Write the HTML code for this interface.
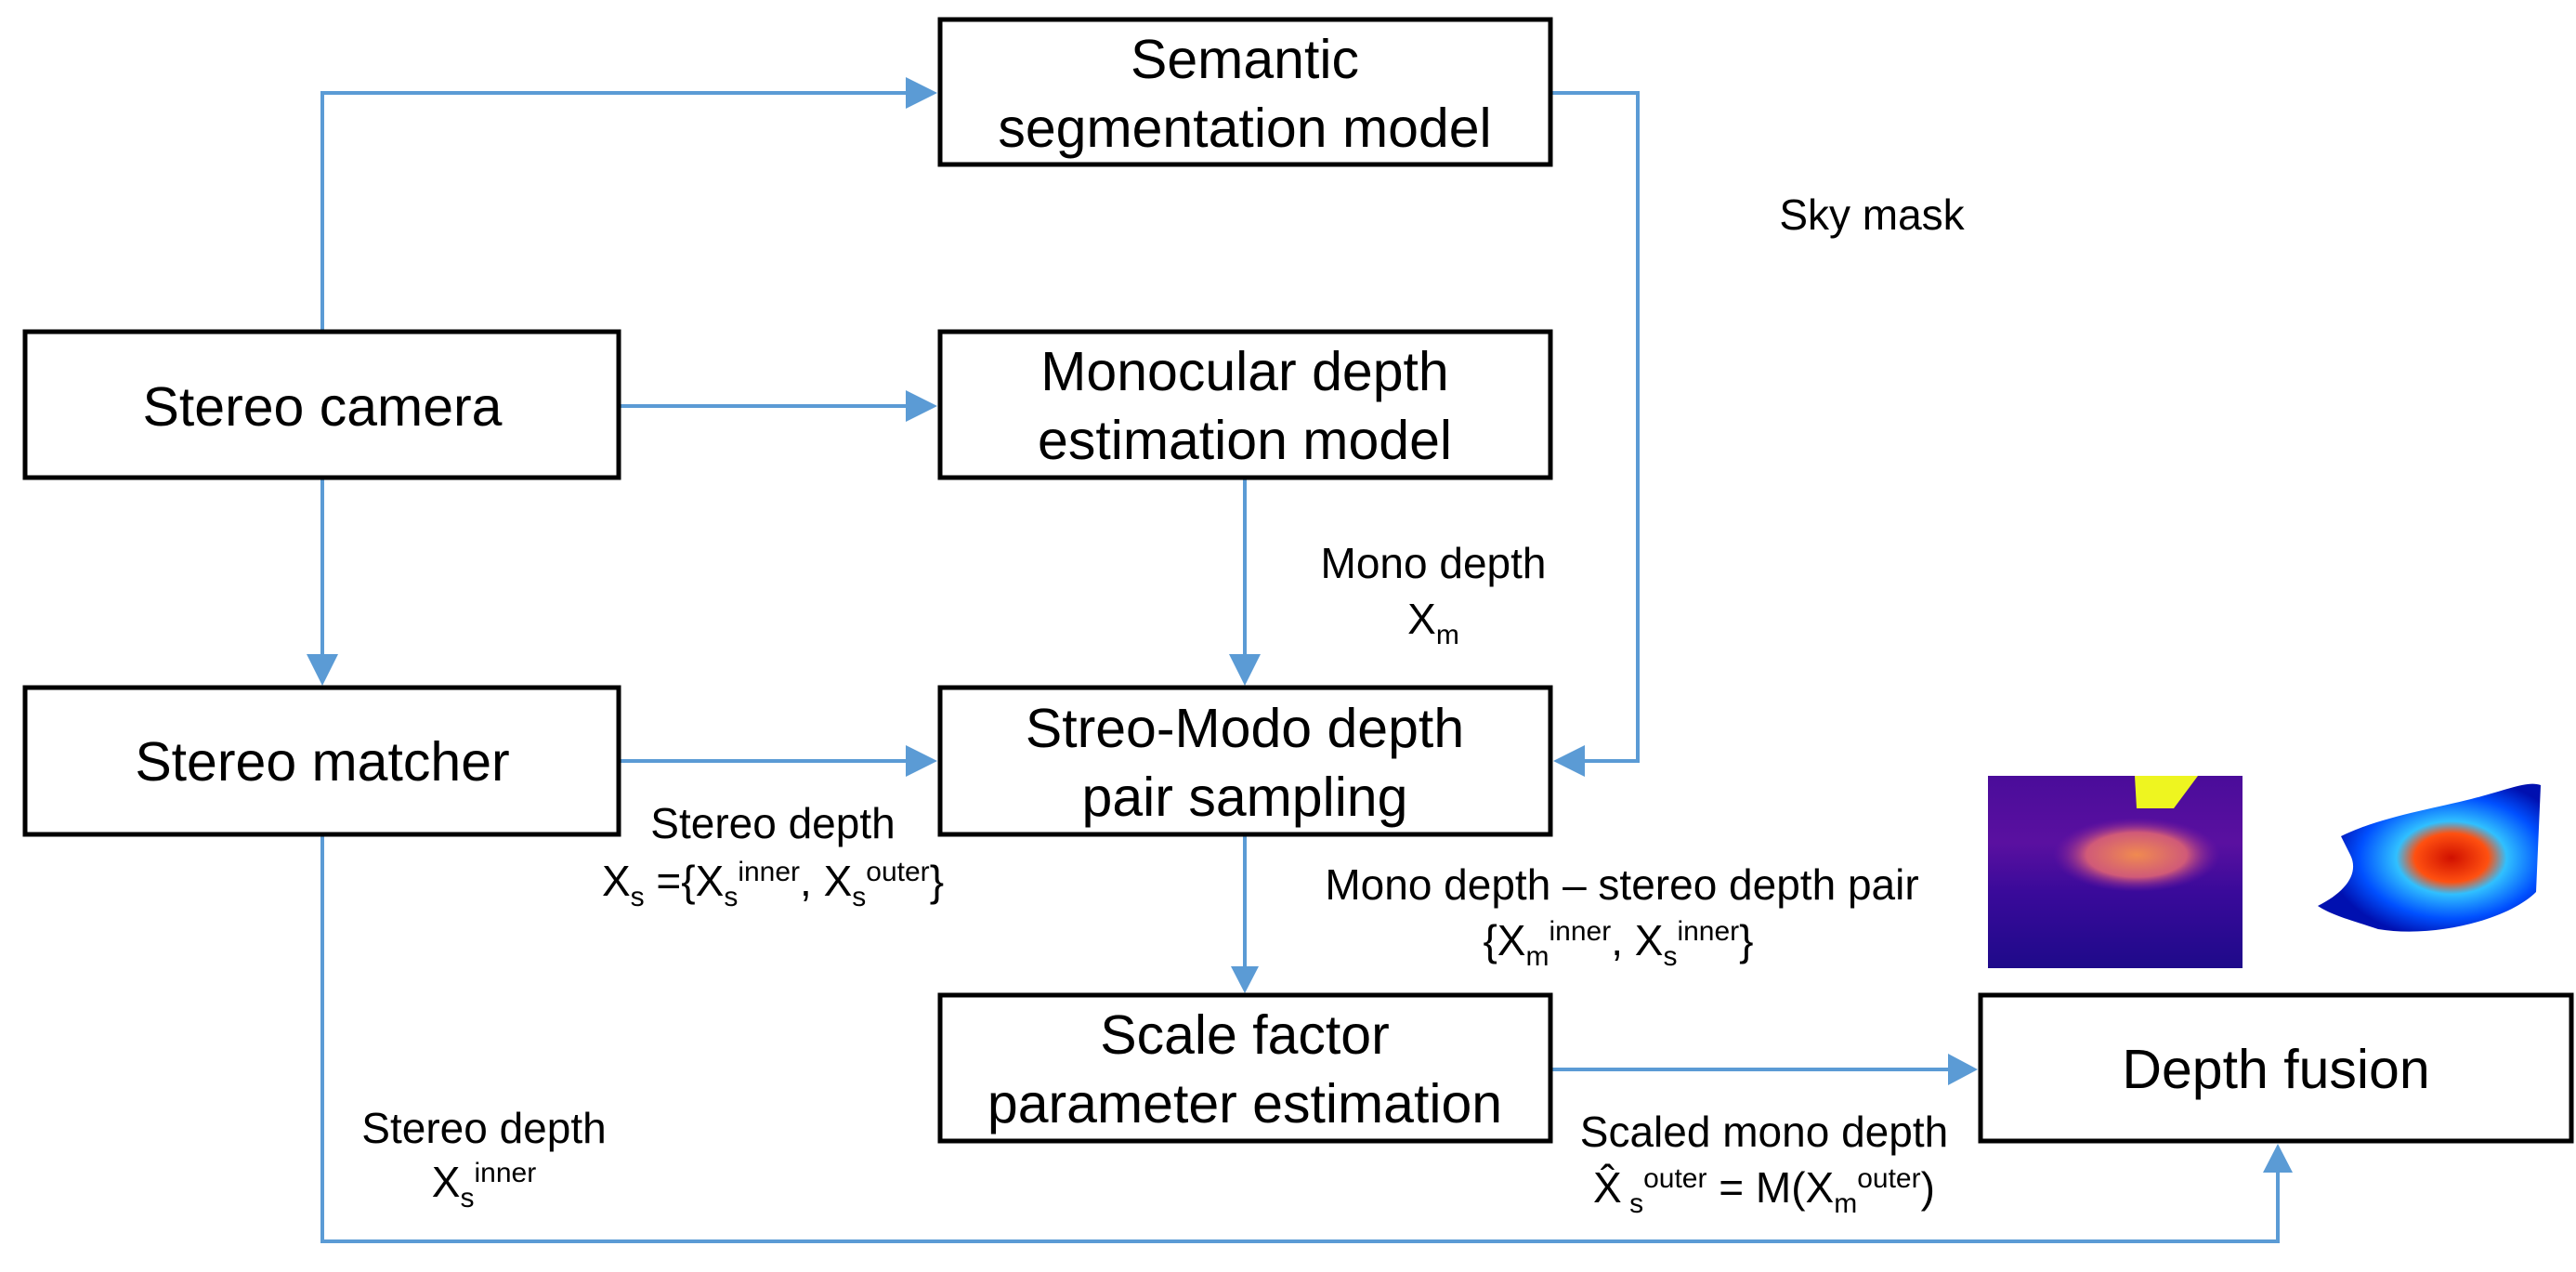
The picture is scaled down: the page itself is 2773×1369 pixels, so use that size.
<!DOCTYPE html>
<html><head><meta charset="utf-8"><style>
html,body{margin:0;padding:0;background:#fff;}
svg{display:block;font-family:"Liberation Sans",Arial,sans-serif;}
</style></head><body>
<svg width="2773" height="1369" viewBox="0 0 2773 1369" xmlns="http://www.w3.org/2000/svg">
<defs>
<linearGradient id="g1" x1="0" y1="0" x2="0" y2="1">
<stop offset="0" stop-color="#4a0c9a"/><stop offset="0.35" stop-color="#5a10a0"/><stop offset="0.6" stop-color="#3a0a9a"/><stop offset="1" stop-color="#1e0a8a"/></linearGradient>
<radialGradient id="g2" cx="0.5" cy="0.5" r="0.5"><stop offset="0" stop-color="#f08a50"/><stop offset="0.6" stop-color="#d05a78"/><stop offset="1" stop-color="#7a1aa0" stop-opacity="0"/></radialGradient>
<radialGradient id="g3" cx="0.6" cy="0.5" r="0.55"><stop offset="0" stop-color="#d01000"/><stop offset="0.3" stop-color="#ff5010"/><stop offset="0.45" stop-color="#30c0ff"/><stop offset="0.75" stop-color="#0050ff"/><stop offset="1" stop-color="#0010b0"/></radialGradient>
</defs>
<g fill="none" stroke="#5b9bd5" stroke-width="4">
<polyline points="347,357 347,100 980,100"/>
<polyline points="666,437 980,437"/>
<polyline points="347,514 347,710"/>
<polyline points="666,819 980,819"/>
<polyline points="1340,514 1340,710"/>
<polyline points="1669,100 1763,100 1763,819 1700,819"/>
<polyline points="1340,898 1340,1045"/>
<polyline points="1668,1151 2104,1151"/>
<polyline points="347,898 347,1336 2452,1336 2452,1258"/>
</g>
<g fill="#5b9bd5">
<polygon points="1009,100 975,83 975,117"/>
<polygon points="1009,437 975,420 975,454"/>
<polygon points="1009,819 975,802 975,836"/>
<polygon points="347,738 330,704 364,704"/>
<polygon points="1340,738 1323,704 1357,704"/>
<polygon points="1340,1069 1325,1040 1355,1040"/>
<polygon points="1672,819 1706,802 1706,836"/>
<polygon points="2129,1151 2097,1134 2097,1168"/>
<polygon points="2452,1231 2436,1262 2468,1262"/>
</g>
<g fill="#fff" stroke="#000" stroke-width="5">
<rect x="1012" y="21" width="657" height="156"/>
<rect x="27" y="357" width="639" height="157"/>
<rect x="1012" y="357" width="657" height="157"/>
<rect x="27" y="740" width="639" height="158"/>
<rect x="1012" y="740" width="657" height="158"/>
<rect x="1012" y="1071" width="657" height="157"/>
<rect x="2132" y="1071" width="636" height="157"/>
</g>
<g font-size="59" text-anchor="middle" fill="#000">
<text x="1340" y="84">Semantic</text>
<text x="1340" y="158">segmentation model</text>
<text x="347" y="458">Stereo camera</text>
<text x="1340" y="420">Monocular depth</text>
<text x="1340" y="494">estimation model</text>
<text x="347" y="840">Stereo matcher</text>
<text x="1340" y="804">Streo-Modo depth</text>
<text x="1340" y="878">pair sampling</text>
<text x="1340" y="1134">Scale factor</text>
<text x="1340" y="1208">parameter estimation</text>
<text x="2450" y="1171">Depth fusion</text>
</g>
<g font-size="46" text-anchor="middle" fill="#000">
<text x="2015" y="247">Sky mask</text>
<text x="1543" y="622">Mono depth</text>
<text x="1543" y="682">X<tspan font-size="30" dy="11">m</tspan></text>
<text x="832" y="902">Stereo depth</text>
<text x="832" y="964">X<tspan font-size="30" dy="11">s</tspan><tspan dy="-11"> ={X</tspan><tspan font-size="30" dy="11">s</tspan><tspan font-size="30" dy="-27">inner</tspan><tspan dy="16">,  X</tspan><tspan font-size="30" dy="11">s</tspan><tspan font-size="30" dy="-27">outer</tspan><tspan dy="16">}</tspan></text>
<text x="1746" y="968">Mono depth – stereo depth pair</text>
<text x="1742" y="1028">{X<tspan font-size="30" dy="11">m</tspan><tspan font-size="30" dy="-27">inner</tspan><tspan dy="16">,  X</tspan><tspan font-size="30" dy="11">s</tspan><tspan font-size="30" dy="-27">inner</tspan><tspan dy="16">}</tspan></text>
<text x="521" y="1230">Stereo depth</text>
<text x="521" y="1288">X<tspan font-size="30" dy="11">s</tspan><tspan font-size="30" dy="-27">inner</tspan></text>
<text x="1899" y="1234">Scaled mono depth</text>
<text x="1899" y="1294">X̂<tspan font-size="30" dy="11"> s</tspan><tspan font-size="30" dy="-27">outer</tspan><tspan dy="16"> = M(X</tspan><tspan font-size="30" dy="11">m</tspan><tspan font-size="30" dy="-27">outer</tspan><tspan dy="16">)</tspan></text>
</g>
<rect x="2140" y="835" width="274" height="207" fill="url(#g1)"/>
<ellipse cx="2300" cy="920" rx="90" ry="40" fill="url(#g2)"/>
<polygon points="2298,835 2366,835 2340,870 2300,870" fill="#eef520"/>
<path d="M2520,900 C2560,880 2620,870 2660,860 C2700,850 2720,840 2735,845 L2730,960 C2700,990 2620,1010 2560,1000 C2530,990 2510,985 2495,975 C2525,960 2540,940 2530,920 z" fill="url(#g3)"/>
</svg>
</body></html>
